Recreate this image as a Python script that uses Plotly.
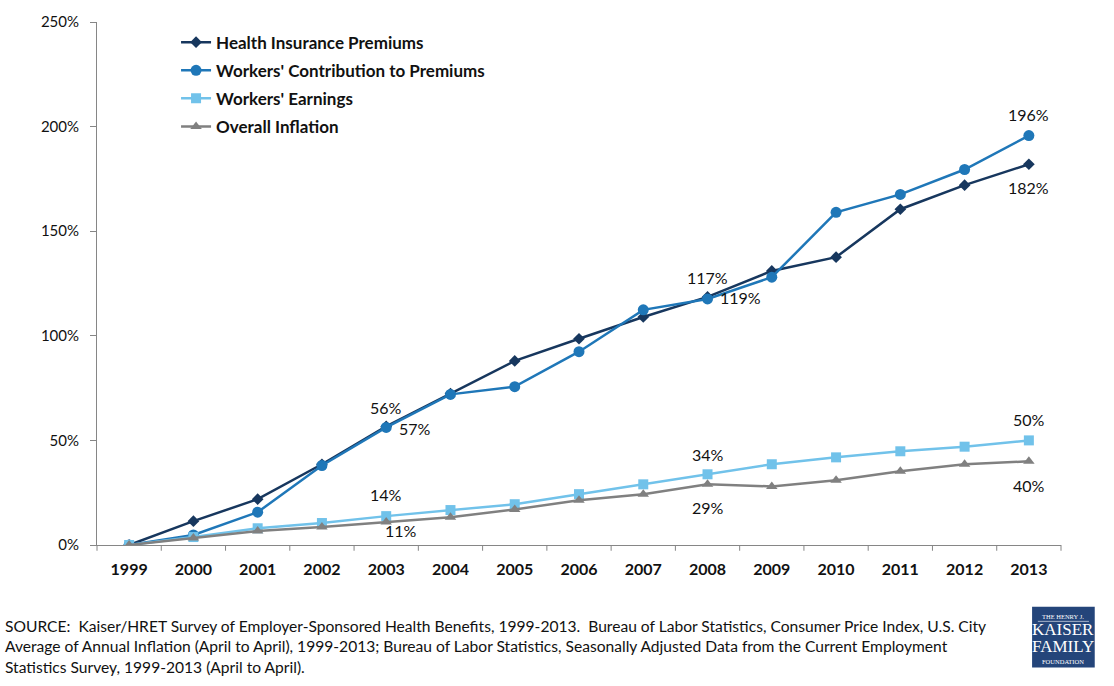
import plotly.graph_objects as go

years = [1999, 2000, 2001, 2002, 2003, 2004, 2005, 2006,
         2007, 2008, 2009, 2010, 2011, 2012, 2013]
premiums = [0, 11.4, 21.9, 38.6, 56.7, 72.4, 88.0, 98.6, 109.0, 118.6,
            131.0, 137.6, 160.5, 172.0, 182.0]
contributions = [0, 4.8, 15.7, 38.0, 56.2, 72.0, 75.7, 92.4, 112.4, 117.6,
                 128.0, 159.0, 167.6, 179.5, 195.7]
earnings = [0, 3.8, 8.0, 10.5, 13.8, 16.7, 19.5, 24.3, 29.0, 33.8,
            38.6, 41.9, 44.8, 47.0, 50.0]
inflation = [0, 3.3, 6.7, 8.6, 11.0, 13.3, 17.0, 21.4, 24.3, 29.0,
             28.0, 31.0, 35.2, 38.6, 40.0]

series_names = ["Health Insurance Premiums", "Workers' Contribution to Premiums",
                "Workers' Earnings", "Overall Inflation"]
y_ticks = [0, 50, 100, 150, 200, 250]
y_tick_text = ["0%", "50%", "100%", "150%", "200%", "250%"]

# data labels: (series index, year index, text)
labels = [
    (0, 4, "56%"), (1, 4, "57%"),
    (2, 4, "14%"), (3, 4, "11%"),
    (0, 9, "117%"), (1, 9, "119%"),
    (2, 9, "34%"), (3, 9, "29%"),
    (1, 14, "196%"), (0, 14, "182%"),
    (2, 14, "50%"), (3, 14, "40%"),
]
label_offsets = [
    (0, 19), (29, -1),
    (0, 22), (15, -9),
    (0, 19), (33, 1),
    (0, 20), (0, -23),
    (0, 21), (0, -23),
    (0, 21), (0, -24),
]

FONT = "Lato, Open Sans, sans-serif"
colors = ["#17375e", "#1f77b8", "#71c2ea", "#808080"]
symbols = ["diamond", "circle", "square", "triangle-up"]
sizes = [9, 11, 10, 10]
data = [premiums, contributions, earnings, inflation]

x_min, x_max = years[0] - 0.5, years[-1] + 0.5
# category boundaries (between years) as fractions of the plot width
boundaries = [y - 0.5 for y in years] + [x_max]
boundary_frac = [(b - x_min) / (x_max - x_min) for b in boundaries]

fig = go.Figure()
for i in range(4):
    fig.add_trace(go.Scatter(
        x=years, y=data[i], name=series_names[i], mode="lines+markers",
        line=dict(color=colors[i], width=2.5),
        marker=dict(symbol=symbols[i], size=sizes[i], color=colors[i]),
        legendgroup=f"g{i}",
    ))

# boundary tick marks below the x axis
for f in boundary_frac:
    fig.add_shape(type="line", xref="paper", yref="paper", x0=f, x1=f,
                  y0=0, y1=-0.011, layer="above",
                  line=dict(color="#868686", width=1))

for (si, yi, txt), (dx, dy) in zip(labels, label_offsets):
    fig.add_annotation(x=years[yi], y=data[si][yi], xref="x", yref="y",
                       text=txt, showarrow=False, xshift=dx, yshift=dy,
                       font=dict(family=FONT, size=16, color="#111111"))

source = ("SOURCE:  Kaiser/HRET Survey of Employer-Sponsored Health Benefits, 1999-2013.  "
          "Bureau of Labor Statistics, Consumer Price Index, U.S. City<br>"
          "Average of Annual Inflation (April to April), 1999-2013; Bureau of Labor Statistics, "
          "Seasonally Adjusted Data from the Current Employment<br>"
          "Statistics Survey, 1999-2013 (April to April).")
fig.add_annotation(xref="paper", yref="paper", x=-0.0975, y=-0.134,
                   xanchor="left", yanchor="top", align="left", showarrow=False,
                   text=source, font=dict(family=FONT, size=15.6, color="#111111"))

# logo
fig.add_shape(type="rect", xref="paper", yref="paper", x0=0.970, x1=1.035,
              y0=-0.234, y1=-0.118, fillcolor="#24457a", line=dict(width=0))
logo_lines = [("THE HENRY J.", 6.5, -0.137), ("KAISER", 17, -0.162),
              ("FAMILY", 17, -0.194), ("FOUNDATION", 6.5, -0.222)]
for txt, sz, yy in logo_lines:
    fig.add_annotation(xref="paper", yref="paper", x=1.0025, y=yy, text=txt,
                       showarrow=False, xanchor="center", yanchor="middle",
                       font=dict(family="Liberation Serif, serif", size=sz, color="white"))
fig.add_shape(type="line", xref="paper", yref="paper", x0=0.976, x1=1.029,
              y0=-0.146, y1=-0.146, line=dict(color="white", width=0.6))

fig.update_layout(
    width=1114, height=686,
    margin=dict(l=97, r=53, t=20, b=141),
    paper_bgcolor="white", plot_bgcolor="white",
    font=dict(family=FONT, color="#111111"),
    showlegend=True,
    legend=dict(x=0.082, y=0.995, xanchor="left", yanchor="top",
                bgcolor="rgba(0,0,0,0)", tracegroupgap=3,
                font=dict(family=FONT, size=17, color="#111111", weight="bold")),
    xaxis=dict(type="linear", range=[x_min, x_max],
               tickmode="linear", tick0=years[0], dtick=1, tickformat="d",
               showgrid=False, showline=True, linecolor="#868686", linewidth=1,
               ticks="outside", ticklen=5, tickcolor="rgba(0,0,0,0)",
               ticklabelstandoff=5, zeroline=False,
               tickfont=dict(family=FONT, size=16, color="#111111", weight="bold")),
    yaxis=dict(range=[0, 250], tickvals=y_ticks, ticktext=y_tick_text,
               showgrid=False, showline=True, linecolor="#868686", linewidth=1,
               ticks="outside", ticklen=6, tickcolor="#868686", zeroline=False,
               ticklabelstandoff=8,
               tickfont=dict(family=FONT, size=15, color="#111111")),
)

fig.write_html("out.html", config={"displayModeBar": False},
               post_script="document.body.style.margin='0px';")
